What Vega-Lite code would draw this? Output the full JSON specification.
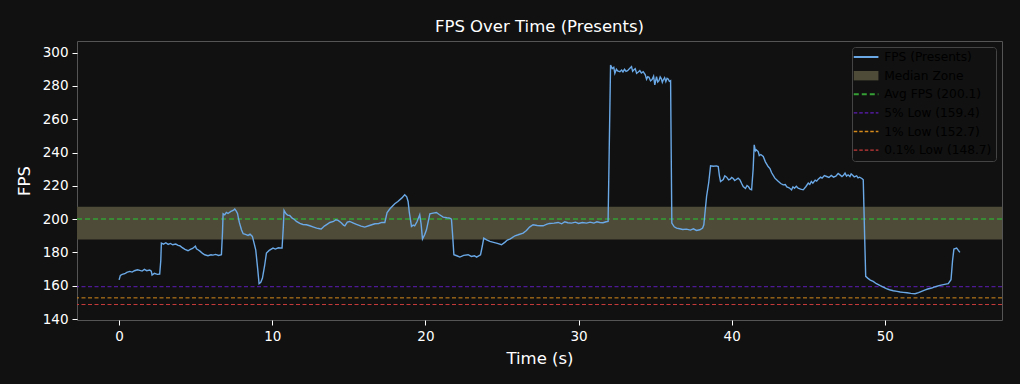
{
  "$schema": "https://vega.github.io/schema/vega-lite/v6.json",
  "width": 925,
  "height": 279,
  "autosize": {"type": "none"},
  "padding": {"left": 77, "top": 41, "right": 18, "bottom": 64},
  "background": "#111111",
  "title": {"text": "FPS Over Time (Presents)", "color": "#ffffff", "fontSize": 16.5, "font": "DejaVu Sans", "fontWeight": "normal", "offset": 6, "anchor": "middle"},
  "config": {
    "view": {"stroke": "#555555", "strokeWidth": 1},
    "axis": {"domain": false, "grid": false, "labelColor": "#ffffff", "labelFont": "DejaVu Sans", "labelFontSize": 13.5, "labelOverlap": false, "tickColor": "#ffffff", "tickSize": 5, "tickWidth": 1, "labelPadding": 4, "titleColor": "#ffffff", "titleFont": "DejaVu Sans", "titleFontSize": 16.5, "titleFontWeight": "normal"},
    "axisY": {"labelFontSize": 13.5, "labelOverlap": false},
    "legend": {"orient": "top-right", "offset": 6, "symbolType": "M-1.45,0H1.45", "symbolSize": 289, "labelColor": "#000000", "labelFont": "DejaVu Sans", "labelFontSize": 12.2, "fillColor": "#111111", "strokeColor": "#444444", "cornerRadius": 3, "padding": 4, "rowPadding": 5.6, "symbolOffset": 4, "labelOffset": 12}
  },
  "datasets": {
    "fps": [
      {"t":0.0,"v":163.5},{"t":0.08,"v":166.2},{"t":0.2,"v":166.8},{"t":0.37,"v":167.2},{"t":0.5,"v":168.0},{"t":0.69,"v":168.6},{"t":0.85,"v":168.2},{"t":1.0,"v":169.0},{"t":1.2,"v":169.6},{"t":1.35,"v":169.2},{"t":1.5,"v":168.8},{"t":1.65,"v":169.8},{"t":1.8,"v":169.0},{"t":2.0,"v":169.4},{"t":2.1,"v":168.8},{"t":2.15,"v":166.4},{"t":2.3,"v":167.4},{"t":2.5,"v":166.8},{"t":2.65,"v":167.0},{"t":2.72,"v":175},{"t":2.76,"v":185.6},{"t":2.9,"v":185.0},{"t":3.05,"v":185.8},{"t":3.2,"v":184.8},{"t":3.35,"v":185.4},{"t":3.5,"v":184.6},{"t":3.7,"v":185.0},{"t":3.85,"v":184.2},{"t":3.96,"v":184.0},{"t":4.1,"v":183.0},{"t":4.3,"v":181.8},{"t":4.5,"v":181.0},{"t":4.65,"v":181.8},{"t":4.8,"v":182.4},{"t":4.98,"v":183.8},{"t":5.05,"v":182.2},{"t":5.15,"v":181.6},{"t":5.3,"v":180.6},{"t":5.45,"v":179.4},{"t":5.59,"v":178.6},{"t":5.8,"v":178.0},{"t":6.0,"v":178.6},{"t":6.13,"v":178.4},{"t":6.3,"v":178.8},{"t":6.5,"v":178.2},{"t":6.68,"v":178.6},{"t":6.75,"v":192},{"t":6.79,"v":203.2},{"t":6.9,"v":202.6},{"t":7.0,"v":204.0},{"t":7.11,"v":203.4},{"t":7.3,"v":204.6},{"t":7.45,"v":205.2},{"t":7.55,"v":206.0},{"t":7.65,"v":204.8},{"t":7.73,"v":203.4},{"t":7.85,"v":198},{"t":7.99,"v":193.6},{"t":8.1,"v":191.2},{"t":8.25,"v":190.8},{"t":8.42,"v":190.2},{"t":8.55,"v":191.0},{"t":8.7,"v":189.6},{"t":8.8,"v":186},{"t":8.92,"v":181.6},{"t":9.05,"v":170},{"t":9.14,"v":161.2},{"t":9.25,"v":162.0},{"t":9.36,"v":164.6},{"t":9.5,"v":172},{"t":9.62,"v":179.6},{"t":9.8,"v":181.2},{"t":10.05,"v":182.6},{"t":10.2,"v":182.0},{"t":10.4,"v":182.8},{"t":10.64,"v":182.6},{"t":10.72,"v":195},{"t":10.77,"v":205.2},{"t":10.9,"v":203.2},{"t":11.0,"v":202.4},{"t":11.14,"v":202.2},{"t":11.3,"v":200.6},{"t":11.45,"v":199.8},{"t":11.58,"v":198.6},{"t":11.8,"v":197.4},{"t":12.0,"v":196.8},{"t":12.23,"v":196.6},{"t":12.45,"v":196.0},{"t":12.7,"v":195.2},{"t":12.9,"v":194.6},{"t":13.1,"v":194.2},{"t":13.2,"v":194.0},{"t":13.4,"v":195.8},{"t":13.6,"v":197.0},{"t":13.76,"v":198.0},{"t":14.0,"v":198.6},{"t":14.15,"v":199.6},{"t":14.3,"v":199.2},{"t":14.5,"v":197.8},{"t":14.65,"v":196.4},{"t":14.74,"v":196.0},{"t":14.9,"v":198.2},{"t":15.06,"v":198.6},{"t":15.3,"v":197.6},{"t":15.5,"v":196.8},{"t":15.8,"v":195.8},{"t":16.04,"v":195.2},{"t":16.3,"v":196.0},{"t":16.5,"v":196.6},{"t":16.7,"v":197.2},{"t":16.95,"v":197.4},{"t":17.15,"v":198.0},{"t":17.35,"v":198.0},{"t":17.45,"v":202},{"t":17.5,"v":204.0},{"t":17.7,"v":206.4},{"t":18.0,"v":209.2},{"t":18.2,"v":210.6},{"t":18.45,"v":212.6},{"t":18.65,"v":214.6},{"t":18.78,"v":213.4},{"t":18.87,"v":210.6},{"t":18.95,"v":204},{"t":19.09,"v":195.6},{"t":19.2,"v":196.4},{"t":19.3,"v":196.0},{"t":19.45,"v":198.4},{"t":19.63,"v":202.6},{"t":19.72,"v":197},{"t":19.81,"v":188.0},{"t":19.95,"v":190.6},{"t":20.07,"v":193.6},{"t":20.2,"v":199.2},{"t":20.29,"v":203.2},{"t":20.5,"v":203.6},{"t":20.72,"v":204.0},{"t":20.9,"v":202.8},{"t":21.16,"v":201.2},{"t":21.4,"v":200.8},{"t":21.59,"v":200.6},{"t":21.7,"v":200.0},{"t":21.78,"v":190},{"t":21.86,"v":178.6},{"t":22.05,"v":178.0},{"t":22.25,"v":177.2},{"t":22.5,"v":178.2},{"t":22.79,"v":178.6},{"t":23.0,"v":177.6},{"t":23.2,"v":178.0},{"t":23.34,"v":177.2},{"t":23.6,"v":178.6},{"t":23.72,"v":184},{"t":23.81,"v":188.6},{"t":24.0,"v":187.6},{"t":24.21,"v":186.6},{"t":24.45,"v":186.0},{"t":24.7,"v":185.4},{"t":24.97,"v":184.6},{"t":25.2,"v":186.2},{"t":25.35,"v":187.4},{"t":25.51,"v":188.0},{"t":25.62,"v":188.6},{"t":25.85,"v":190.0},{"t":26.06,"v":190.6},{"t":26.38,"v":191.6},{"t":26.6,"v":193.2},{"t":26.8,"v":195.2},{"t":27.03,"v":196.6},{"t":27.3,"v":196.2},{"t":27.5,"v":196.0},{"t":27.69,"v":196.0},{"t":27.9,"v":196.8},{"t":28.1,"v":197.4},{"t":28.4,"v":197.6},{"t":28.67,"v":198.0},{"t":28.9,"v":197.2},{"t":29.1,"v":198.4},{"t":29.3,"v":197.8},{"t":29.54,"v":197.6},{"t":29.8,"v":198.2},{"t":30.0,"v":197.4},{"t":30.25,"v":198.0},{"t":30.52,"v":197.6},{"t":30.75,"v":198.2},{"t":31.0,"v":197.6},{"t":31.2,"v":198.4},{"t":31.39,"v":198.0},{"t":31.6,"v":197.8},{"t":31.8,"v":198.4},{"t":31.93,"v":198.6},{"t":32.0,"v":240},{"t":32.09,"v":292.6},{"t":32.2,"v":290.4},{"t":32.3,"v":291.2},{"t":32.37,"v":287.6},{"t":32.47,"v":290.0},{"t":32.55,"v":289.0},{"t":32.7,"v":288.6},{"t":32.81,"v":289.6},{"t":32.9,"v":288.4},{"t":33.0,"v":290.0},{"t":33.1,"v":288.8},{"t":33.2,"v":289.2},{"t":33.35,"v":290.6},{"t":33.46,"v":291.6},{"t":33.53,"v":288.8},{"t":33.6,"v":289.6},{"t":33.7,"v":290.4},{"t":33.79,"v":287.6},{"t":33.9,"v":288.4},{"t":34.0,"v":289.2},{"t":34.1,"v":287.8},{"t":34.22,"v":288.6},{"t":34.35,"v":286.8},{"t":34.44,"v":284.0},{"t":34.52,"v":285.6},{"t":34.6,"v":285.2},{"t":34.7,"v":283.0},{"t":34.8,"v":283.8},{"t":34.9,"v":285.8},{"t":34.98,"v":280.6},{"t":35.09,"v":285.6},{"t":35.17,"v":282.4},{"t":35.25,"v":283.2},{"t":35.33,"v":285.4},{"t":35.4,"v":284.4},{"t":35.47,"v":282.2},{"t":35.53,"v":283.6},{"t":35.62,"v":285.0},{"t":35.7,"v":282.6},{"t":35.78,"v":284.6},{"t":35.85,"v":284.2},{"t":35.93,"v":282.8},{"t":36.01,"v":283.2},{"t":36.05,"v":240},{"t":36.09,"v":197.6},{"t":36.25,"v":195.4},{"t":36.4,"v":194.6},{"t":36.6,"v":194.2},{"t":36.8,"v":193.8},{"t":37.05,"v":194.0},{"t":37.3,"v":193.4},{"t":37.5,"v":194.2},{"t":37.7,"v":193.2},{"t":37.92,"v":193.6},{"t":38.1,"v":194.6},{"t":38.18,"v":196.6},{"t":38.36,"v":213.6},{"t":38.5,"v":222},{"t":38.62,"v":232.0},{"t":38.8,"v":231.8},{"t":39.0,"v":232.0},{"t":39.12,"v":231.6},{"t":39.2,"v":226},{"t":39.27,"v":222.6},{"t":39.45,"v":223.8},{"t":39.55,"v":226.0},{"t":39.67,"v":225.2},{"t":39.8,"v":223.6},{"t":39.9,"v":224.0},{"t":40.0,"v":225.0},{"t":40.1,"v":224.4},{"t":40.2,"v":223.2},{"t":40.3,"v":223.8},{"t":40.42,"v":224.6},{"t":40.54,"v":223.6},{"t":40.65,"v":221.4},{"t":40.75,"v":219.6},{"t":40.9,"v":218.4},{"t":41.0,"v":220.2},{"t":41.1,"v":219.4},{"t":41.2,"v":218.0},{"t":41.3,"v":217.6},{"t":41.4,"v":230},{"t":41.47,"v":244.6},{"t":41.55,"v":241.0},{"t":41.6,"v":241.6},{"t":41.73,"v":240.6},{"t":41.8,"v":238.2},{"t":41.9,"v":238.8},{"t":42.06,"v":237.6},{"t":42.2,"v":234.4},{"t":42.38,"v":231.6},{"t":42.5,"v":230.4},{"t":42.6,"v":228.0},{"t":42.82,"v":224.6},{"t":43.0,"v":223.0},{"t":43.2,"v":221.4},{"t":43.36,"v":220.6},{"t":43.5,"v":220.8},{"t":43.6,"v":219.4},{"t":43.75,"v":218.8},{"t":43.91,"v":217.6},{"t":44.0,"v":219.4},{"t":44.1,"v":218.6},{"t":44.22,"v":219.8},{"t":44.34,"v":218.6},{"t":44.5,"v":218.0},{"t":44.67,"v":217.6},{"t":44.85,"v":219.6},{"t":45.0,"v":221.6},{"t":45.1,"v":220.8},{"t":45.2,"v":222.6},{"t":45.3,"v":221.6},{"t":45.45,"v":223.4},{"t":45.55,"v":222.8},{"t":45.65,"v":224.0},{"t":45.8,"v":225.2},{"t":45.9,"v":224.6},{"t":46.05,"v":226.2},{"t":46.2,"v":225.6},{"t":46.35,"v":225.0},{"t":46.5,"v":226.2},{"t":46.65,"v":225.2},{"t":46.8,"v":225.8},{"t":46.95,"v":227.4},{"t":47.07,"v":226.6},{"t":47.2,"v":225.6},{"t":47.3,"v":226.4},{"t":47.4,"v":227.6},{"t":47.5,"v":225.8},{"t":47.6,"v":226.6},{"t":47.72,"v":225.6},{"t":47.8,"v":227.2},{"t":47.9,"v":226.4},{"t":48.0,"v":225.4},{"t":48.16,"v":226.0},{"t":48.25,"v":224.8},{"t":48.35,"v":225.2},{"t":48.5,"v":224.4},{"t":48.59,"v":223.6},{"t":48.68,"v":190},{"t":48.75,"v":165.6},{"t":48.9,"v":164.4},{"t":49.05,"v":163.4},{"t":49.24,"v":162.6},{"t":49.45,"v":161.2},{"t":49.7,"v":160.0},{"t":49.9,"v":159.2},{"t":50.1,"v":158.2},{"t":50.3,"v":157.6},{"t":50.55,"v":157.0},{"t":50.8,"v":156.6},{"t":51.0,"v":156.2},{"t":51.2,"v":156.0},{"t":51.45,"v":155.8},{"t":51.7,"v":155.4},{"t":51.97,"v":155.2},{"t":52.2,"v":155.8},{"t":52.4,"v":156.6},{"t":52.6,"v":157.4},{"t":52.8,"v":158.0},{"t":53.06,"v":158.6},{"t":53.3,"v":159.4},{"t":53.6,"v":160.2},{"t":53.9,"v":160.8},{"t":54.14,"v":161.2},{"t":54.32,"v":163.6},{"t":54.42,"v":175},{"t":54.51,"v":182.0},{"t":54.69,"v":182.6},{"t":54.8,"v":181.2},{"t":54.9,"v":180.0}
    ],
    "zone": [{"series": "Median Zone", "y": 187.8, "y2": 207.4}],
    "avg": [{"series": "Avg FPS (200.1)", "y": 200.1}],
    "lows": [
      {"series": "5% Low (159.4)", "y": 159.4},
      {"series": "1% Low (152.7)", "y": 152.7},
      {"series": "0.1% Low (148.7)", "y": 148.7}
    ]
  },
  "layer": [
    {
      "data": {"name": "zone"},
      "mark": {"type": "rect"},
      "encoding": {
        "y": {"field": "y", "type": "quantitative", "scale": {"domain": [139.4, 307], "nice": false, "zero": false}, "axis": {"values": [140,160,180,200,220,240,260,280,300], "title": "FPS", "titlePadding": 10, "labelFontSize": 13.5, "labelOverlap": false}},
        "y2": {"field": "y2"},
        "color": {
          "field": "series", "type": "nominal",
          "scale": {
            "domain": ["FPS (Presents)", "Median Zone", "Avg FPS (200.1)", "5% Low (159.4)", "1% Low (152.7)", "0.1% Low (148.7)"],
            "range": ["#6aa8e6", "#4e4b39", "#35a035", "#5e1cb8", "#d58a1c", "#c83a3a"]
          },
          "legend": {
            "title": null,
            "encode": {
              "symbols": {
                "update": {
                  "shape": {"signal": "datum.value === 'Median Zone' ? 'M-1.45,-0.55H1.45V0.55H-1.45Z' : 'M-1.45,0H1.45'"},
                  "stroke": {"scale": "color", "field": "value"},
                  "fill": {"signal": "datum.value === 'Median Zone' ? scale('color', datum.value) : 'transparent'"},
                  "opacity": {"value": 1},
                  "strokeJoin": {"value": "bevel"},
                  "strokeWidth": {"signal": "datum.value === 'Median Zone' ? 0 : (datum.value === 'FPS (Presents)' || datum.value === 'Avg FPS (200.1)') ? 2 : 1.4"},
                  "strokeDash": {"signal": "datum.value === 'Avg FPS (200.1)' ? [5,3] : (indexof(datum.value, 'Low') >= 0 ? [3.5,2] : [1,0])"}
                }
              }
            }
          }
        }
      }
    },
    {
      "data": {"name": "avg"},
      "mark": {"type": "rule", "strokeWidth": 1.5, "strokeDash": [5, 3]},
      "encoding": {
        "y": {"field": "y", "type": "quantitative", "scale": {"domain": [139.4, 307], "nice": false, "zero": false}, "axis": {"values": [140,160,180,200,220,240,260,280,300], "title": "FPS", "titlePadding": 10, "labelFontSize": 13.5, "labelOverlap": false}},
        "color": {"field": "series", "type": "nominal"}
      }
    },
    {
      "data": {"name": "lows"},
      "mark": {"type": "rule", "strokeWidth": 1, "strokeDash": [4, 2.5]},
      "encoding": {
        "y": {"field": "y", "type": "quantitative", "scale": {"domain": [139.4, 307], "nice": false, "zero": false}, "axis": {"values": [140,160,180,200,220,240,260,280,300], "title": "FPS", "titlePadding": 10, "labelFontSize": 13.5, "labelOverlap": false}},
        "color": {"field": "series", "type": "nominal"}
      }
    },
    {
      "data": {"name": "fps"},
      "mark": {"type": "line", "strokeWidth": 1.4, "interpolate": "linear"},
      "encoding": {
        "x": {"field": "t", "type": "quantitative", "scale": {"domain": [-2.75, 57.65], "nice": false, "zero": false}, "axis": {"values": [0,10,20,30,40,50], "title": "Time (s)", "titlePadding": 8, "labelFontSize": 13.5}},
        "y": {"field": "v", "type": "quantitative", "scale": {"domain": [139.4, 307], "nice": false, "zero": false}, "axis": {"values": [140,160,180,200,220,240,260,280,300], "title": "FPS", "titlePadding": 10, "labelFontSize": 13.5, "labelOverlap": false}},
        "color": {"datum": "FPS (Presents)"}
      }
    }
  ]
}
